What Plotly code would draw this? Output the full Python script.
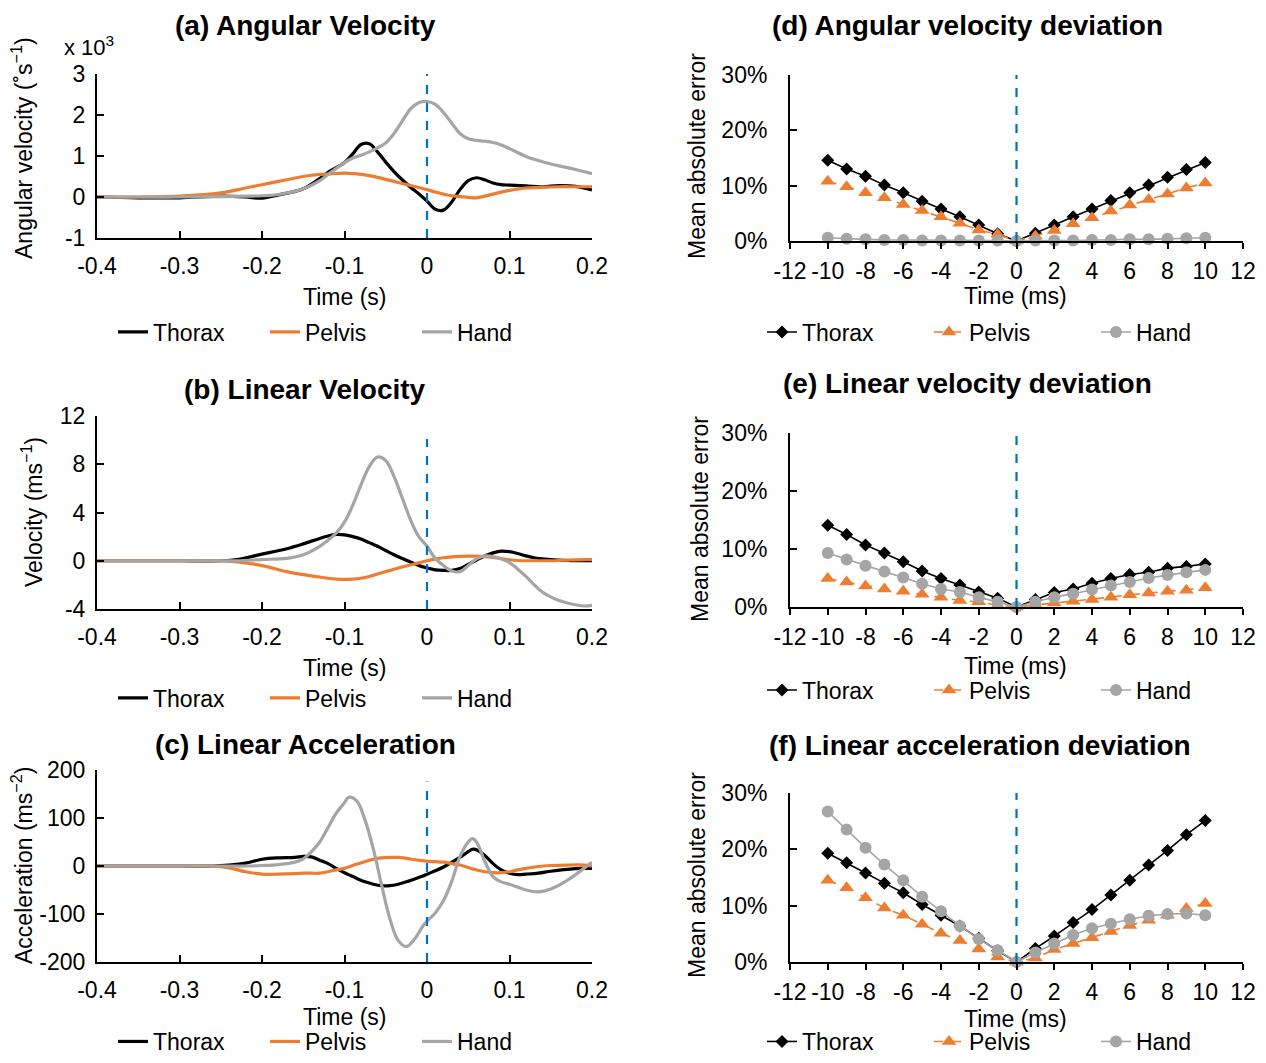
import plotly.graph_objects as go

# ---------------- data: left panels (time in s) ----------------
t_a = [-0.40, -0.35, -0.30, -0.25, -0.22, -0.20, -0.18, -0.15, -0.13, -0.12, -0.10, -0.09, -0.08,
       -0.07, -0.06, -0.05, -0.04, -0.03, -0.02, -0.01, 0.00, 0.01, 0.02, 0.03, 0.04, 0.05,
       0.06, 0.07, 0.08, 0.09, 0.10, 0.12, 0.14, 0.16, 0.18, 0.20]
thorax_a = [0.00, -0.02, -0.02, 0.02, 0.00, -0.03, 0.05, 0.20, 0.45, 0.60, 0.84, 1.05, 1.28,
            1.30, 1.10, 0.85, 0.62, 0.42, 0.24, 0.08, -0.10, -0.30, -0.32, -0.12, 0.18, 0.40,
            0.47, 0.42, 0.34, 0.30, 0.29, 0.27, 0.25, 0.28, 0.26, 0.17]
pelvis_a = [0.00, 0.00, 0.02, 0.10, 0.22, 0.30, 0.38, 0.50, 0.55, 0.56, 0.58, 0.57, 0.55,
            0.52, 0.48, 0.43, 0.38, 0.33, 0.28, 0.23, 0.18, 0.12, 0.07, 0.03, 0.01, -0.01,
            -0.02, 0.02, 0.07, 0.12, 0.16, 0.22, 0.24, 0.25, 0.25, 0.25]
hand_a = [0.00, 0.00, 0.00, 0.01, 0.02, 0.03, 0.06, 0.20, 0.40, 0.55, 0.84, 0.95, 1.02,
          1.10, 1.20, 1.32, 1.55, 1.85, 2.15, 2.30, 2.33, 2.26, 2.06, 1.80, 1.55, 1.42,
          1.38, 1.36, 1.33, 1.27, 1.18, 0.99, 0.86, 0.76, 0.67, 0.57]

t_b = [-0.40, -0.30, -0.25, -0.23, -0.20, -0.17, -0.15, -0.13, -0.12, -0.11, -0.10, -0.09,
       -0.08, -0.07, -0.06, -0.05, -0.04, -0.03, -0.02, -0.01, 0.00, 0.01, 0.02, 0.03, 0.04,
       0.05, 0.06, 0.07, 0.08, 0.09, 0.10, 0.11, 0.12, 0.13, 0.14, 0.15, 0.16, 0.17, 0.18,
       0.19, 0.20]
thorax_b = [0.00, 0.00, 0.00, 0.10, 0.55, 1.00, 1.40, 1.85, 2.05, 2.18, 2.15, 2.00,
            1.80, 1.50, 1.20, 0.85, 0.50, 0.18, -0.10, -0.40, -0.60, -0.75, -0.80, -0.80, -0.65,
            -0.30, 0.05, 0.40, 0.65, 0.80, 0.75, 0.60, 0.40, 0.25, 0.15, 0.10, 0.05, 0.02, 0.00,
            0.00, 0.00]
pelvis_b = [0.00, 0.00, 0.00, -0.10, -0.40, -0.90, -1.15, -1.35, -1.45, -1.52, -1.55, -1.52,
            -1.45, -1.30, -1.10, -0.90, -0.70, -0.52, -0.35, -0.18, 0.00, 0.14, 0.25, 0.32, 0.36,
            0.38, 0.38, 0.35, 0.28, 0.18, 0.08, 0.02, 0.00, 0.00, 0.00, 0.00, 0.02, 0.05, 0.08,
            0.10, 0.10]
hand_b = [0.00, 0.00, 0.00, 0.00, 0.10, 0.20, 0.50, 1.20, 1.70, 2.30, 3.20, 4.60,
          6.30, 7.80, 8.60, 8.30, 7.00, 5.20, 3.40, 2.00, 1.20, 0.20, -0.40, -0.85, -0.90,
          -0.40, 0.15, 0.40, 0.35, 0.15, -0.15, -0.70, -1.30, -2.00, -2.60, -3.00, -3.30, -3.50,
          -3.65, -3.75, -3.70]

t_c = [-0.40, -0.30, -0.26, -0.24, -0.22, -0.20, -0.18, -0.16, -0.15, -0.14, -0.13, -0.12,
       -0.11, -0.10, -0.095, -0.085, -0.075, -0.065, -0.055, -0.045, -0.035, -0.025, -0.015,
       -0.005, 0.00, 0.01, 0.02, 0.03, 0.04, 0.05, 0.055, 0.06, 0.07, 0.08, 0.09, 0.10, 0.11,
       0.12, 0.135, 0.15, 0.17, 0.19, 0.20]
thorax_c = [0, 0, 0, 2, 6, 14, 17, 18, 20, 19, 12, 5,
            -5, -14, -18, -26, -33, -38, -41, -41, -38, -33, -27,
            -21, -17, -10, -2, 8, 18, 30, 35, 34, 22, 5, -8, -15, -18,
            -17, -15, -11, -7, -5, -5]
pelvis_c = [0, 0, 0, -4, -12, -17, -17, -16, -15, -15, -15, -12,
            -8, -5, -2, 4, 9, 14, 17, 18, 18, 16, 13,
            11, 10, 9, 8, 5, 2, -3, -6, -8, -12, -14, -14, -12, -8,
            -5, -1, 1, 2, 2, 0]
hand_c = [0, 0, 0, 0, 0, 1, 3, 8, 15, 30, 50, 80,
          110, 132, 143, 135, 95, 35, -40, -110, -155, -168, -152,
          -125, -115, -98, -72, -32, 20, 50, 57, 50, 10, -22, -33, -38, -44,
          -50, -54, -48, -30, -5, 8]

# ---------------- data: right panels (time offset in ms, MAE in %) ----------------
t_ms = [-10, -9, -8, -7, -6, -5, -4, -3, -2, -1, 0, 1, 2, 3, 4, 5, 6, 7, 8, 9, 10]
thorax_d = [14.6, 13.0, 11.7, 10.1, 8.7, 7.2, 5.8, 4.4, 2.9, 1.3, 0.0,
            1.4, 2.9, 4.4, 5.8, 7.3, 8.7, 10.1, 11.5, 12.9, 14.2]
pelvis_d = [10.8, 9.8, 8.7, 7.8, 6.6, 5.5, 4.4, 3.2, 2.0, 1.2, 0.0,
            0.9, 1.9, 3.1, 4.2, 5.4, 6.5, 7.5, 8.5, 9.6, 10.5]
hand_d = [0.6, 0.4, 0.3, 0.2, 0.2, 0.1, 0.1, 0.1, 0.1, 0.1, 0.0,
          0.1, 0.1, 0.1, 0.2, 0.2, 0.3, 0.3, 0.4, 0.5, 0.6]

thorax_e = [14.1, 12.5, 10.7, 9.3, 7.8, 6.2, 4.9, 3.8, 2.6, 1.5, 0.0,
            1.3, 2.5, 3.1, 4.1, 4.9, 5.6, 6.0, 6.7, 7.0, 7.4]
pelvis_e = [4.9, 4.3, 3.6, 3.1, 2.7, 2.2, 1.7, 1.1, 0.9, 0.3, 0.0,
            0.4, 0.7, 1.0, 1.3, 1.7, 2.1, 2.4, 2.7, 2.9, 3.3]
hand_e = [9.3, 8.2, 7.1, 6.1, 5.1, 4.0, 3.1, 2.6, 1.7, 0.9, 0.0,
          0.9, 1.7, 2.3, 3.0, 3.7, 4.3, 5.0, 5.5, 6.0, 6.4]

thorax_f = [19.3, 17.6, 15.8, 14.0, 12.3, 10.2, 8.3, 6.4, 4.2, 2.0, 0.0,
            2.4, 4.6, 7.0, 9.3, 11.9, 14.5, 17.2, 19.8, 22.6, 25.1]
pelvis_f = [14.5, 13.2, 11.4, 9.6, 8.3, 6.7, 5.1, 3.8, 2.3, 0.9, 0.0,
            0.7, 2.2, 3.3, 4.3, 5.4, 6.5, 7.4, 8.3, 9.5, 10.4]
hand_f = [26.7, 23.5, 20.3, 17.3, 14.5, 11.6, 9.0, 6.4, 4.1, 2.1, 0.0,
          1.7, 3.3, 4.8, 6.0, 6.8, 7.6, 8.2, 8.5, 8.6, 8.3]

series_names = ["Thorax", "Pelvis", "Hand"]
left_ticks_x = [-0.4, -0.3, -0.2, -0.1, 0, 0.1, 0.2]
right_ticks_x = [-12, -10, -8, -6, -4, -2, 0, 2, 4, 6, 8, 10, 12]
ticks_y_a = [-1, 0, 1, 2, 3]
ticks_y_b = [-4, 0, 4, 8, 12]
ticks_y_c = [-200, -100, 0, 100, 200]
ticks_y_pct = [0, 10, 20, 30]


def labels(vals, suffix=""):
    # hyphen-minus labels as in the reference (plotly would use U+2212)
    return [("%g" % v) + suffix for v in vals]


# ---------------- styling ----------------
BLACK = "#000000"
ORANGE = "#ED7D31"
GRAY = "#A5A5A5"
BLUE = "#0070C0"
FONT = "Arial, 'Liberation Sans', sans-serif"
W, H = 1266, 1063


def py(px):
    return 1 - px / H


def pxx(px):
    return px / W


fig = go.Figure()

left_x_dom = [pxx(97), pxx(592)]
right_x_dom = [pxx(790), pxx(1243)]

panels = [
    dict(ax="", xd=left_x_dom, yd=(74, 238), t=t_a, ys=[thorax_a, pelvis_a, hand_a], yr=[-1, 3],
         yt=ticks_y_a, kind="left", leg="legend", legy=332, dash_top=3.2),
    dict(ax="2", xd=left_x_dom, yd=(416, 609), t=t_b, ys=[thorax_b, pelvis_b, hand_b], yr=[-4, 12],
         yt=ticks_y_b, kind="left", leg="legend2", legy=698, dash_top=10.1),
    dict(ax="3", xd=left_x_dom, yd=(770, 962), t=t_c, ys=[thorax_c, pelvis_c, hand_c], yr=[-200, 200],
         yt=ticks_y_c, kind="left", leg="legend3", legy=None, dash_top=176),
    dict(ax="4", xd=right_x_dom, yd=(75, 241), t=t_ms, ys=[thorax_d, pelvis_d, hand_d], yr=[0, 30],
         yt=ticks_y_pct, kind="right", leg="legend4", legy=332, dash_top=31.5),
    dict(ax="5", xd=right_x_dom, yd=(433, 607), t=t_ms, ys=[thorax_e, pelvis_e, hand_e], yr=[0, 30],
         yt=ticks_y_pct, kind="right", leg="legend5", legy=690, dash_top=29.5),
    dict(ax="6", xd=right_x_dom, yd=(793, 962), t=t_ms, ys=[thorax_f, pelvis_f, hand_f], yr=[0, 30],
         yt=ticks_y_pct, kind="right", leg="legend6", legy=None, dash_top=30.5),
]

colors = [BLACK, ORANGE, GRAY]
symbols = ["diamond", "triangle-up", "circle"]
msizes = [10, 13, 12]
dashes = ["solid", "dash", "solid"]

layout = {}
for p in panels:
    xa = "x" + p["ax"]
    ya = "y" + p["ax"]
    for i, (name, ys) in enumerate(zip(series_names, p["ys"])):
        if p["kind"] == "left":
            fig.add_trace(go.Scatter(
                x=p["t"], y=ys, name=name, mode="lines",
                line=dict(color=colors[i], width=3.2, shape="spline", smoothing=1.0),
                xaxis=xa, yaxis=ya, legend=p["leg"]))
        else:
            fig.add_trace(go.Scatter(
                x=p["t"], y=ys, name=name, mode="lines+markers",
                line=dict(color=colors[i], width=1.6, dash=dashes[i]),
                marker=dict(symbol=symbols[i], size=msizes[i], color=colors[i]),
                cliponaxis=False,
                xaxis=xa, yaxis=ya, legend=p["leg"]))
    # dashed event line at t = 0
    fig.add_shape(type="line", xref=xa, yref=ya, x0=0, x1=0, y0=p["yr"][0], y1=p["dash_top"],
                  line=dict(color=BLUE, width=2.2, dash="dash"))

    xkey = "xaxis" + p["ax"]
    ykey = "yaxis" + p["ax"]
    if p["kind"] == "left":
        layout[xkey] = dict(domain=p["xd"], anchor=ya, range=[-0.4, 0.2], tickvals=left_ticks_x,
                            ticktext=labels(left_ticks_x), ticks="inside", ticklen=7, tickwidth=1.5,
                            tickcolor=BLACK, showline=True, linecolor=BLACK, linewidth=2,
                            showgrid=False, zeroline=False, ticklabelstandoff=6, tickangle=0,
                            automargin=False, tickfont=dict(size=23, color=BLACK, family=FONT))
        ystand = 5
    else:
        layout[xkey] = dict(domain=p["xd"], anchor=ya, range=[-12, 12], tickvals=right_ticks_x,
                            ticktext=labels(right_ticks_x), ticks="outside", ticklen=6, tickwidth=1.5,
                            tickcolor=BLACK, showline=True, linecolor=BLACK, linewidth=2,
                            showgrid=False, zeroline=False, ticklabelstandoff=2, tickangle=0,
                            automargin=False, tickfont=dict(size=23, color=BLACK, family=FONT))
        ystand = 16
    layout[ykey] = dict(domain=[py(p["yd"][1]), py(p["yd"][0])], anchor=xa, range=p["yr"],
                        tickvals=p["yt"], ticktext=labels(p["yt"], "%" if p["kind"] == "right" else ""),
                        ticks="inside", ticklen=7, tickwidth=1.5,
                        tickcolor=BLACK, showline=True, linecolor=BLACK, linewidth=2,
                        showgrid=False, zeroline=False, ticklabelstandoff=ystand, automargin=False,
                        tickfont=dict(size=23, color=BLACK, family=FONT))
    legx = pxx(113) if p["kind"] == "left" else pxx(762)
    if p["legy"] is None:
        legy, yanch = 0.0, "bottom"
    else:
        legy, yanch = py(p["legy"]), "middle"
    layout[p["leg"]] = dict(orientation="h", x=legx, xanchor="left", y=legy, yanchor=yanch,
                            entrywidth=107 if p["kind"] == "left" else 122, entrywidthmode="pixels",
                            font=dict(size=23, color=BLACK, family=FONT), bgcolor="rgba(0,0,0,0)",
                            itemwidth=30, tracegroupgap=0)

annotations = []
titles = [
    ("(a) Angular Velocity", 305, 25),
    ("(b) Linear Velocity", 305, 390),
    ("(c) Linear Acceleration", 305, 744),
    ("(d) Angular velocity deviation", 967, 25),
    ("(e) Linear velocity deviation", 967, 384),
    ("(f) Linear acceleration deviation", 980, 745),
]
for txt, x, y in titles:
    annotations.append(dict(text="<b>" + txt + "</b>", x=pxx(x), y=py(y), xref="paper", yref="paper",
                            xanchor="center", yanchor="middle", showarrow=False,
                            font=dict(size=28, color=BLACK, family=FONT)))

xtitles = [("Time (s)", 344, 297), ("Time (s)", 344, 668), ("Time (s)", 344, 1017),
           ("Time (ms)", 1015, 296), ("Time (ms)", 1015, 666), ("Time (ms)", 1015, 1019)]
for txt, x, y in xtitles:
    annotations.append(dict(text=txt, x=pxx(x), y=py(y), xref="paper", yref="paper",
                            xanchor="center", yanchor="middle", showarrow=False,
                            font=dict(size=23, color=BLACK, family=FONT)))

ytitles = [("Angular velocity (˚s<sup>−1</sup>)", 22, 148), ("Velocity (ms<sup>−1</sup>)", 32, 512),
           ("Acceleration (ms<sup>−2</sup>)", 22, 866),
           ("Mean absolute error", 697, 156), ("Mean absolute error", 700, 519),
           ("Mean absolute error", 697, 875)]
for txt, x, y in ytitles:
    annotations.append(dict(text=txt, x=pxx(x), y=py(y), xref="paper", yref="paper",
                            xanchor="center", yanchor="middle", textangle=-90, showarrow=False,
                            font=dict(size=23, color=BLACK, family=FONT)))

annotations.append(dict(text="x 10<sup>3</sup>", x=pxx(62), y=py(46), xref="paper", yref="paper",
                        xanchor="left", yanchor="middle", showarrow=False,
                        font=dict(size=22, color=BLACK, family=FONT)))

fig.update_layout(
    width=W, height=H, margin=dict(l=0, r=0, t=0, b=0, pad=0), autosize=False,
    paper_bgcolor="white", plot_bgcolor="white",
    font=dict(family=FONT, size=23, color=BLACK),
    annotations=annotations, **layout)

fig.write_html("out.html", config={"displayModeBar": False})
